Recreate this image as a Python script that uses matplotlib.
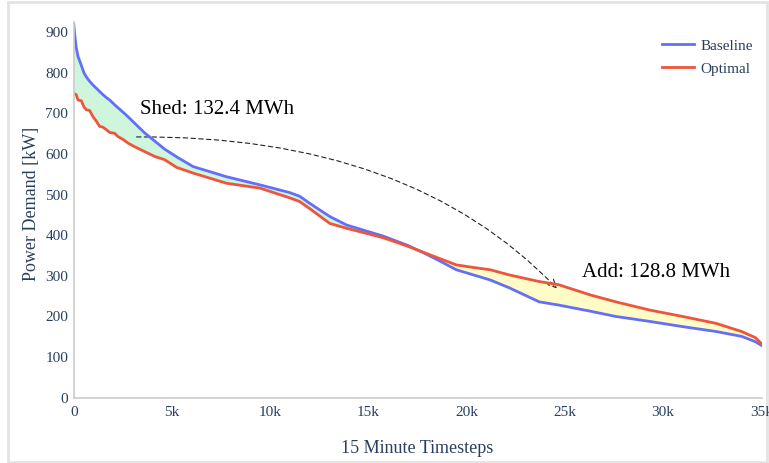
import matplotlib
matplotlib.use('Agg')
import matplotlib.pyplot as plt
from matplotlib.patches import FancyArrowPatch, Rectangle
from matplotlib.path import Path
from matplotlib.ticker import FuncFormatter
import numpy as np

# load duration curves, x in thousands of 15 minute timesteps
steps_k = [0, 0.05, 0.13, 0.22, 0.39, 0.52, 0.64, 0.81, 0.98, 1.15, 1.32, 1.49, 1.66, 1.83,
           2.09, 2.25, 2.51, 2.76, 3.1, 3.61, 4.12, 4.63, 5.24, 6.08, 7.78, 9.48, 11.0, 11.5,
           12.0, 13.04, 13.9, 15.75, 17.0, 17.8, 18.5, 19.48, 20.3, 21.2, 22.2, 23.7, 24.7,
           26.3, 27.6, 29.3, 31.0, 32.7, 34.0, 34.7, 35.04]

baseline = [922, 895, 862, 840, 818, 800, 790, 779, 770, 762, 754, 746, 739, 733,
            721, 714, 703, 692, 676, 652, 632, 612, 593, 569, 544, 524, 505, 496,
            479, 446, 425, 398, 375, 357, 340, 315, 303, 290, 270, 236, 228,
            213, 200, 188, 175, 163, 151, 138, 128]

optimal = [750, 748, 746, 733, 731, 716, 709, 707, 692, 681, 668, 666, 660, 653,
           651, 643, 636, 627, 618, 606, 594, 586, 567, 553, 528, 516, 492, 483,
           466, 429, 417, 394, 373, 358, 345, 327, 321, 315, 302, 286, 278,
           253, 236, 216, 200, 183, 163, 148, 132]

x_ticks = [0, 5000, 10000, 15000, 20000, 25000, 30000, 35000]
y_ticks = [0, 100, 200, 300, 400, 500, 600, 700, 800, 900]

shed_label = 'Shed: 132.4 MWh'
add_label = 'Add: 128.8 MWh'

plt.rcParams['font.family'] = ['Liberation Serif', 'DejaVu Serif']
text_col = '#2a3f5f'

x = np.array(steps_k) * 1000
base = np.array(baseline)
opt = np.array(optimal)

W, H = 769, 463
fig = plt.figure(figsize=(W / 100, H / 100), dpi=100)
ax = fig.add_axes([73.7 / W, (H - 397.7) / H, (762 - 73.7) / W, (397.7 - 22) / H])

ax.fill_between(x, base, opt, where=base >= opt, interpolate=True,
                color='#cff5dd', lw=0)
ax.fill_between(x, base, opt, where=base <= opt, interpolate=True,
                color='#fffcc8', lw=0)
ax.plot(x, base, color='#636efa', lw=2, label='Baseline')
ax.plot(x, opt, color='#ef553b', lw=2, label='Optimal')

ax.set_xlim(0, 35040)
ax.set_ylim(0, 925)
ax.set_xticks(x_ticks)
ax.set_yticks(y_ticks)
ax.xaxis.set_major_formatter(FuncFormatter(lambda v, p: '0' if v == 0 else '%dk' % (v / 1000)))
ax.tick_params(length=0, labelsize=11, colors=text_col, pad=6)
ax.tick_params(axis='y', pad=4)
for s in ['top', 'right']:
    ax.spines[s].set_visible(False)
for s in ['left', 'bottom']:
    ax.spines[s].set_color('#cccccc')
    ax.spines[s].set_linewidth(1.2)

ax.set_xlabel('15 Minute Timesteps', fontsize=13, color=text_col, va='center')
ax.xaxis.set_label_coords(0.4995, -0.134)
ax.set_ylabel('Power Demand [kW]', fontsize=13, color=text_col, va='center')
ax.yaxis.set_label_coords(-0.0606, 0.5156)

# annotations
ax.text(3380, 709, shed_label, fontsize=15, va='center', ha='left', color='black')
ax.text(25900, 309, add_label, fontsize=15, va='center', ha='left', color='black')

arrow_path = Path([(3200, 642), (17100, 647), (24600, 269)],
                  [Path.MOVETO, Path.CURVE3, Path.CURVE3])
arr = FancyArrowPatch(path=arrow_path, arrowstyle='->', mutation_scale=14,
                      linestyle=(0, (4, 3)), lw=0.8, color='#222222')
ax.add_patch(arr)

fig.legend(loc='upper left', bbox_to_anchor=(662 / W, (H - 39) / H), frameon=False,
           fontsize=11, handlelength=2.1, handletextpad=0.4, labelspacing=0.6,
           borderpad=0, borderaxespad=0, labelcolor=text_col)

# light frame around the figure, kept behind the axes so the last tick label shows
fig.patches.append(Rectangle((8 / W, 1 / H), (767 - 8) / W, (461 - 1) / H,
                             transform=fig.transFigure, fill=False,
                             edgecolor='#e3e3e3', lw=2, zorder=-1))

fig.savefig('out.png', dpi=100)
